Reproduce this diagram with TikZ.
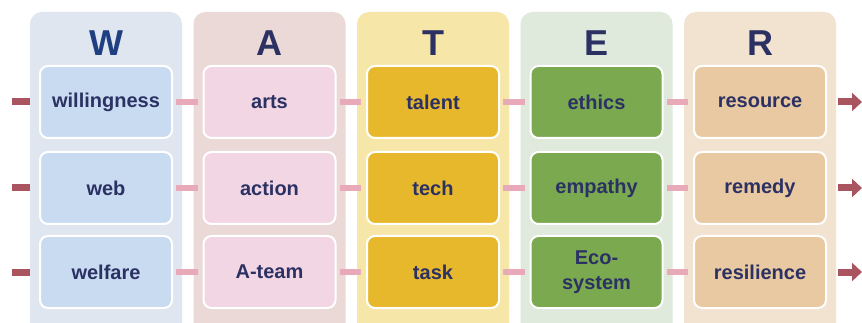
\documentclass[tikz,border=0pt]{standalone}
\usepackage{fontspec}
\setmainfont{Liberation Sans}
\usepackage{tikz}
\usetikzlibrary{arrows.meta}

\definecolor{wpanel}{HTML}{DFE6F0}
\definecolor{wbox}{HTML}{C9DBF0}
\definecolor{apanel}{HTML}{EAD9D6}
\definecolor{abox}{HTML}{F2D6E4}
\definecolor{tpanel}{HTML}{F6E6A8}
\definecolor{tbox}{HTML}{E8B82C}
\definecolor{epanel}{HTML}{DFE9DC}
\definecolor{ebox}{HTML}{7AA94F}
\definecolor{rpanel}{HTML}{F1E3CF}
\definecolor{rbox}{HTML}{E9C9A1}
\definecolor{txt}{HTML}{2B3163}
\definecolor{headblue}{HTML}{1F3F80}
\definecolor{linkpink}{HTML}{E8A9B8}
\definecolor{bardark}{HTML}{A9545F}

\begin{document}
\begin{tikzpicture}[x=1pt,y=-1pt,
    panel/.style={rounded corners=12pt,minimum width=152pt,minimum height=330pt},
    head/.style={font=\bfseries\fontsize{36}{36}\selectfont,text=txt},
    word/.style={draw=white,line width=2pt,rounded corners=8pt,minimum width=132pt,
      minimum height=72pt,align=center,text=txt,
      font=\bfseries\fontsize{20}{25}\selectfont},
    link/.style={linkpink,line width=6pt,shorten <=3pt,shorten >=5pt},
    inbar/.style={bardark,line width=7pt,shorten >=9pt},
    outarrow/.style={bardark,line width=7pt,shorten <=11pt,
      -{Triangle[length=10pt,width=18pt]}}]
\useasboundingbox (0,0) rectangle (862,323);
\fill[white] (0,0) rectangle (862,323);
\clip (0,0) rectangle (862,323);

% columns
\node[panel,fill=wpanel] (pW) at (106,177) {};
\node[panel,fill=apanel] (pA) at (269.5,177) {};
\node[panel,fill=tpanel] (pT) at (433,177) {};
\node[panel,fill=epanel] (pE) at (596.5,177) {};
\node[panel,fill=rpanel] (pR) at (760,177) {};

\node[head,text=headblue] (hW) at (106,43) {W};
\node[head] (hA) at (269.5,43) {A};
\node[head] (hT) at (433,43) {T};
\node[head] (hE) at (596.5,43) {E};
\node[head] (hR) at (760,43) {R};

% words
\node[word,fill=wbox] (w1) at (106,102) {willingness};
\node[word,fill=wbox] (w2) at (106,188) {web};
\node[word,fill=wbox] (w3) at (106,272) {welfare};
\node[word,fill=abox] (a1) at (269.5,102) {arts};
\node[word,fill=abox] (a2) at (269.5,188) {action};
\node[word,fill=abox] (a3) at (269.5,272) {A-team};
\node[word,fill=tbox] (t1) at (433,102) {talent};
\node[word,fill=tbox] (t2) at (433,188) {tech};
\node[word,fill=tbox] (t3) at (433,272) {task};
\node[word,fill=ebox] (e1) at (596.5,102) {ethics};
\node[word,fill=ebox] (e2) at (596.5,188) {empathy};
\node[word,fill=ebox] (e3) at (596.5,272) {Eco-\\system};
\node[word,fill=rbox] (r1) at (760,102) {resource};
\node[word,fill=rbox] (r2) at (760,188) {remedy};
\node[word,fill=rbox] (r3) at (760,272) {resilience};

% links
\coordinate (in1) at (12,102);
\coordinate (in2) at (12,188);
\coordinate (in3) at (12,272);
\coordinate (out1) at (862,102);
\coordinate (out2) at (862,188);
\coordinate (out3) at (862,272);

\draw[inbar] (in1) -- (w1);
\draw[inbar] (in2) -- (w2);
\draw[inbar] (in3) -- (w3);
\draw[link] (w1) -- (a1);
\draw[link] (w2) -- (a2);
\draw[link] (w3) -- (a3);
\draw[link] (a1) -- (t1);
\draw[link] (a2) -- (t2);
\draw[link] (a3) -- (t3);
\draw[link] (t1) -- (e1);
\draw[link] (t2) -- (e2);
\draw[link] (t3) -- (e3);
\draw[link] (e1) -- (r1);
\draw[link] (e2) -- (r2);
\draw[link] (e3) -- (r3);
\draw[outarrow] (r1) -- (out1);
\draw[outarrow] (r2) -- (out2);
\draw[outarrow] (r3) -- (out3);
\end{tikzpicture}
\end{document}
